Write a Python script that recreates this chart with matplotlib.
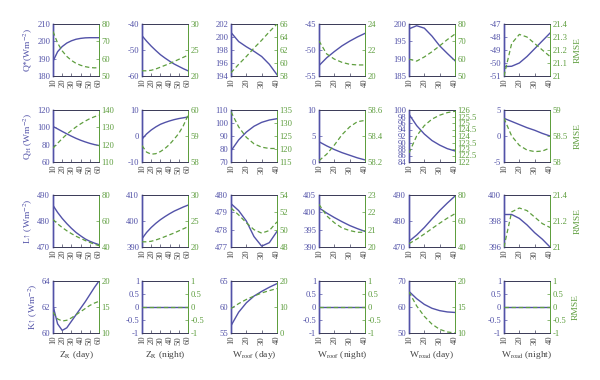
import matplotlib
matplotlib.use("Agg")
import matplotlib.pyplot as plt

# ---------------- data ----------------
X_ZR = [10, 15, 20, 25, 30, 35, 40, 45, 50, 55, 60]
X_W = [10, 15, 20, 25, 30, 35, 40]

XLABELS = [r"Z$_{\rm R}$ (day)", r"Z$_{\rm R}$ (night)", r"W$_{\rm roof}$ (day)",
           r"W$_{\rm roof}$ (night)", r"W$_{\rm road}$ (day)", r"W$_{\rm road}$ (night)"]
YLABELS = [r"Q*(Wm$^{-2}$)", r"Q$_{\rm H}$ (Wm$^{-2}$)", r"L↑ (Wm$^{-2}$)", r"K↑ (Wm$^{-2}$)"]

# row 1: Q*
QSTAR_MODEL = [
    [188.5, 194, 197, 199, 200.3, 201.2, 201.7, 202, 202.1, 202.1, 202.1],
    [-44.5, -46.6, -48.5, -50.2, -51.8, -53.1, -54.3, -55.4, -56.3, -57.2, -58],
    [200.7, 199.3, 198.5, 197.8, 197.0, 195.8, 194.2],
    [-53, -51.5, -50.3, -49.2, -48.3, -47.5, -46.8],
    [198.6, 199.5, 198.8, 196.5, 193.7, 191.5, 189.4],
    [-50.28, -50.25, -50.0, -49.5, -48.9, -48.3, -47.7],
]
QSTAR_RMSE = [
    [75.7, 69, 64.5, 61.3, 59, 57.3, 56.2, 55.4, 54.9, 54.7, 54.8],
    [21.0, 21.0, 21.1, 21.35, 21.7, 22.05, 22.4, 22.8, 23.2, 23.6, 24.0],
    [58.5, 59.8, 61.0, 62.3, 63.5, 64.8, 66.0],
    [22.7, 21.7, 21.3, 21.05, 20.9, 20.85, 20.85],
    [59.7, 58.6, 61, 64, 67.4, 71, 74.2],
    [21.0, 21.25, 21.32, 21.3, 21.25, 21.2, 21.15],
]
# row 2: QH
QH_MODEL = [
    [101, 98.2, 95.3, 92.5, 89.8, 87.3, 85.1, 83.2, 81.5, 80.1, 79],
    [-1.2, 0.8, 2.3, 3.5, 4.5, 5.2, 5.8, 6.3, 6.7, 7.0, 7.3],
    [78.6, 87, 93, 97.5, 100.5, 102.3, 103.3],
    [3.9, 3.1, 2.4, 1.8, 1.3, 0.8, 0.4],
    [98.7, 95.2, 92.6, 90.6, 89.2, 88.1, 87.4],
    [3.4, 2.8, 2.2, 1.6, 1.1, 0.5, 0.0],
]
QH_RMSE = [
    [118, 120.8, 123.5, 126, 128.2, 130.2, 132, 133.6, 135, 136.1, 137],
    [58.63, 58.38, 58.3, 58.32, 58.4, 58.52, 58.68, 58.88, 59.1, 59.4, 59.8],
    [134.3, 128.5, 124.5, 122, 120.7, 120.2, 120.2],
    [58.21, 58.26, 58.33, 58.41, 58.47, 58.51, 58.52],
    [122.7, 124.0, 124.8, 125.3, 125.6, 125.8, 125.9],
    [58.84, 58.5, 58.32, 58.23, 58.2, 58.21, 58.27],
]
# row 3: L up
LUP_MODEL = [
    [486, 483.3, 481, 479, 477.2, 475.6, 474.3, 473.1, 472.2, 471.5, 470.9],
    [393.2, 395.6, 397.5, 399.1, 400.5, 401.7, 402.8, 403.8, 404.6, 405.4, 406.1],
    [479.5, 479.1, 478.5, 477.6, 477.05, 477.25, 477.9],
    [401.3, 399.8, 398.5, 397.3, 396.2, 395.3, 394.5],
    [472.2, 474.6, 477.5, 480.8, 484, 486.9, 489.6],
    [398.5, 398.5, 398.2, 397.7, 397.1, 396.6, 396.0],
]
LUP_RMSE = [
    [61.2, 57.8, 55, 52.5, 50.3, 48.3, 46.6, 45, 43.5, 42.2, 41],
    [21.0, 21.0, 21.1, 21.35, 21.65, 22.0, 22.35, 22.7, 23.1, 23.5, 23.9],
    [52.5, 51.7, 50.8, 50.0, 49.6, 49.9, 50.9],
    [22.46, 21.8, 21.4, 21.1, 20.95, 20.85, 20.85],
    [42.6, 46, 50, 54.2, 58.3, 62.2, 65.6],
    [21.0, 21.27, 21.3, 21.28, 21.23, 21.18, 21.15],
]
# row 4: K up
KUP_MODEL = [
    [62.1, 60.7, 60.2, 60.4, 60.9, 61.4, 61.9, 62.4, 62.95, 63.5, 64.0],
    [0, 0, 0, 0, 0, 0, 0, 0, 0, 0, 0],
    [56.4, 59.0, 60.8, 62.1, 63.0, 63.8, 64.5],
    [0, 0, 0, 0, 0, 0, 0],
    [66, 63.2, 61, 59.5, 58.6, 58.1, 57.9],
    [0, 0, 0, 0, 0, 0, 0],
]
KUP_RMSE = [
    [14.0, 12.7, 12.3, 12.45, 12.9, 13.5, 14.1, 14.7, 15.3, 15.75, 16.1],
    [0, 0, 0, 0, 0, 0, 0, 0, 0, 0, 0],
    [9.4, 11.3, 12.9, 14.2, 15.4, 16.3, 17.1],
    [0, 0, 0, 0, 0, 0, 0],
    [17.9, 15.2, 13.2, 11.7, 10.7, 10.2, 10.0],
    [0, 0, 0, 0, 0, 0, 0],
]

LEFT_TICKS = [
    [[180, 190, 200, 210], [-60, -50, -40], [194, 196, 198, 200, 202], [-55, -50, -45],
     [185, 190, 195, 200], [-51, -50, -49, -48, -47]],
    [[60, 80, 100, 120], [-10, 0, 10], [70, 80, 90, 100, 110], [0, 5, 10],
     [84, 86, 88, 90, 92, 94, 96, 98, 100], [-5, 0, 5]],
    [[470, 480, 490], [390, 400, 410], [477, 478, 479, 480], [390, 395, 400, 405],
     [470, 480, 490], [396, 398, 400]],
    [[60, 62, 64], [-1, -0.5, 0, 0.5, 1], [55, 60, 65], [-1, -0.5, 0, 0.5, 1],
     [50, 60, 70], [-1, -0.5, 0, 0.5, 1]],
]
RIGHT_TICKS = [
    [[50, 60, 70, 80], [20, 25, 30], [58, 60, 62, 64, 66], [20, 22, 24],
     [50, 60, 70, 80], [21, 21.1, 21.2, 21.3, 21.4]],
    [[110, 120, 130, 140], [58, 59, 60], [115, 120, 125, 130, 135], [58.2, 58.4, 58.6],
     [122, 122.5, 123, 123.5, 124, 124.5, 125, 125.5, 126], [58, 58.5, 59]],
    [[40, 60, 80], [20, 25, 30], [48, 50, 52, 54], [20, 21, 22, 23],
     [40, 60, 80], [21, 21.2, 21.4]],
    [[10, 15, 20], [-1, -0.5, 0, 0.5, 1], [0, 10, 20], [-1, -0.5, 0, 0.5, 1],
     [10, 15, 20], [-1, -0.5, 0, 0.5, 1]],
]

MODEL_ROWS = [QSTAR_MODEL, QH_MODEL, LUP_MODEL, KUP_MODEL]
RMSE_ROWS = [QSTAR_RMSE, QH_RMSE, LUP_RMSE, KUP_RMSE]

# ---------------- style ----------------
BLUE = "#5252A8"
GREEN = "#5E9E3E"
FRAME = "#3E3E5A"
GREY = "#444444"
FONT = ["Liberation Serif", "DejaVu Serif"]
plt.rcParams["font.family"] = FONT
plt.rcParams["mathtext.fontset"] = "stix"
TS = 6.2
LS = 6.8


def fmt(v):
    if float(v).is_integer():
        return str(int(v))
    return ("%g" % v)


fig = plt.figure(figsize=(6.0, 3.8), dpi=100)
W, H = 600.0, 380.0
col_left = [53, 142, 231, 319, 409, 504]
row_top = [24, 110, 195, 281]
aw, ah = 46, 52

for r in range(4):
    for c in range(6):
        x = X_ZR if c < 2 else X_W
        ax = fig.add_axes([col_left[c] / W, 1 - (row_top[r] + ah) / H, aw / W, ah / H])
        ax2 = ax.twinx()
        ax.plot(x, MODEL_ROWS[r][c], color=BLUE, lw=1.0, zorder=3)
        ax2.plot(x, RMSE_ROWS[r][c], color=GREEN, lw=0.9, ls=(0, (3.5, 2.2)), zorder=4)
        ax.set_xlim(x[0], x[-1])
        lt = LEFT_TICKS[r][c]
        rt = RIGHT_TICKS[r][c]
        ax.set_ylim(lt[0], lt[-1])
        ax2.set_ylim(rt[0], rt[-1])
        ax.set_yticks(lt)
        ax.set_yticklabels([fmt(v) for v in lt])
        ax2.set_yticks(rt)
        ax2.set_yticklabels([fmt(v) for v in rt])
        xt = list(range(10, x[-1] + 1, 10))
        ax.set_xticks(xt)
        ax.set_xticklabels([str(v) for v in xt], rotation=90)
        ax.tick_params(axis="x", direction="in", length=2, width=0.5, colors=FRAME,
                       labelcolor=GREY, labelsize=TS, pad=2, top=False)
        ax.tick_params(axis="y", direction="in", length=2, width=0.5, colors=BLUE,
                       labelsize=TS, pad=2)
        ax2.tick_params(axis="y", direction="in", length=2, width=0.5, colors=GREEN,
                        labelsize=TS, pad=2)
        for a in (ax, ax2):
            a.spines["top"].set_color(FRAME)
            a.spines["bottom"].set_color(FRAME)
            a.spines["left"].set_color(BLUE)
            a.spines["right"].set_color(GREEN)
            for s in a.spines.values():
                s.set_linewidth(0.7)
        ax.spines["left"].set_linewidth(1.0)
        ax2.spines["left"].set_linewidth(1.0)
        if c == 0:
            ax.set_ylabel(YLABELS[r], color=BLUE, fontsize=LS, labelpad=1.5)
        if c == 5:
            ax2.set_ylabel("RMSE", color=GREEN, fontsize=LS, labelpad=4)
        if r == 3:
            ax.set_xlabel(XLABELS[c], color=GREY, fontsize=LS, labelpad=3)

fig.savefig("out.png", dpi=100)
